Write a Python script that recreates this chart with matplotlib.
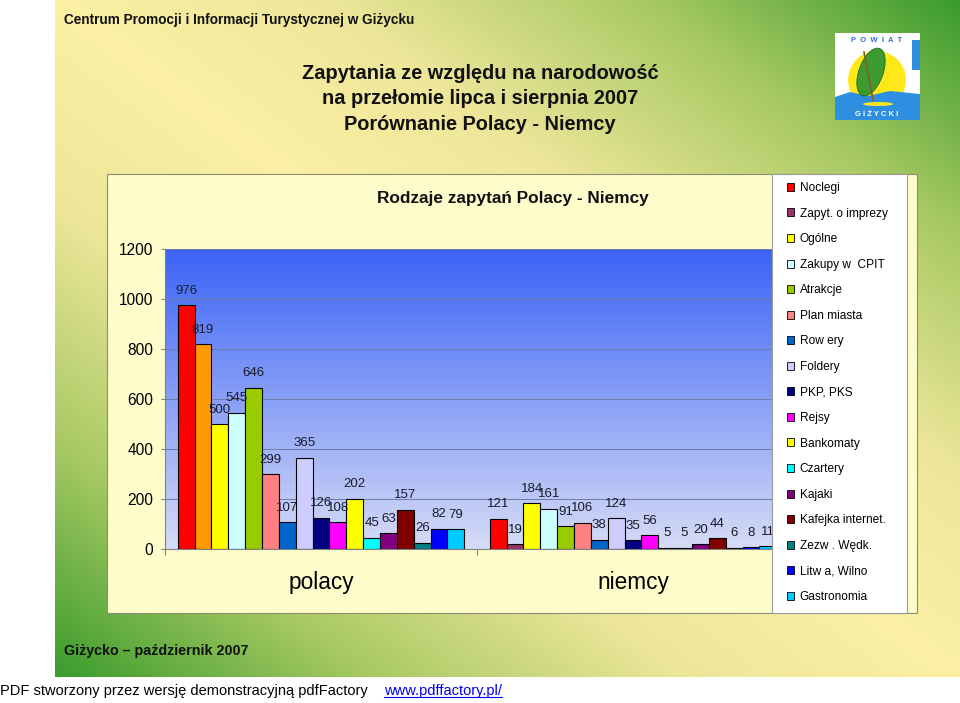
import numpy as np
import matplotlib
matplotlib.use("Agg")
from matplotlib import pyplot as plt
from matplotlib.colors import LinearSegmentedColormap
from matplotlib.patches import Rectangle, Circle, Ellipse, Polygon, Patch

plt.rcParams["font.family"] = ["Liberation Sans", "DejaVu Sans"]

GROUPS = ["polacy", "niemcy"]
CATEGORIES = ["Noclegi", "Zapyt. o imprezy", "Ogólne", "Zakupy w  CPIT", "Atrakcje",
              "Plan miasta", "Row ery", "Foldery", "PKP, PKS", "Rejsy", "Bankomaty",
              "Czartery", "Kajaki", "Kafejka internet.", "Zezw . Wędk.", "Litw a, Wilno",
              "Gastronomia"]
POLACY = [976, 819, 500, 545, 646, 299, 107, 365, 126, 108, 202, 45, 63, 157, 26, 82, 79]
NIEMCY = [121, 19, 184, 161, 91, 106, 38, 124, 35, 56, 5, 5, 20, 44, 6, 8, 11]
Y_TICKS = [0, 200, 400, 600, 800, 1000, 1200]

COLORS = ["#FF0000", "#993366", "#FFFF00", "#CCFFFF", "#99CC00", "#FF8080", "#0066CC",
          "#CCCCFF", "#000080", "#FF00FF", "#FFFF00", "#00FFFF", "#800080", "#800000",
          "#008080", "#0000FF", "#00CCFF"]
# in the "polacy" group the second bar was recoloured orange
POLACY_COLORS = list(COLORS)
POLACY_COLORS[1] = "#FF9900"

fig = plt.figure(figsize=(9.6, 7.03), dpi=100)
fig.patch.set_facecolor("white")

# page background (pixel coordinates)
bg = fig.add_axes([0, 0, 1, 1], zorder=0)
page_cmap = LinearSegmentedColormap.from_list(
    "page", [(0, "#FBF0A4"), (0.3, "#EDE699"), (0.65, "#A8C964"), (1, "#3A9B2C")])
yy, xx = np.mgrid[0:677, 55:960]
t = np.abs((xx - 55) / 905 - yy / 677)
bg.imshow(t, cmap=page_cmap, vmin=0, vmax=1, extent=(55, 960, 677, 0), aspect="auto")
bg.set_xlim(0, 960)
bg.set_ylim(703, 0)
bg.axis("off")

bg.add_patch(Rectangle((107, 174), 810, 439, facecolor="#FFFCCC", edgecolor="#8C8C70", lw=0.8))

bg.text(64, 20, "Centrum Promocji i Informacji Turystycznej w Giżycku",
        fontsize=9.8, fontweight="bold", va="center", color="#111111")
bg.text(480, 99, "Zapytania ze względu na narodowość\nna przełomie lipca i sierpnia 2007\n"
        "Porównanie Polacy - Niemcy", ha="center", va="center", fontsize=14.4,
        fontweight="bold", linespacing=1.42, color="#111111")
bg.text(513, 199, "Rodzaje zapytań Polacy - Niemcy", ha="center", va="center",
        fontsize=12.4, fontweight="bold", color="#111111")
bg.text(64, 651, "Giżycko – październik 2007", fontsize=10.3, fontweight="bold",
        va="center", color="#111111")
bg.text(0, 691, "PDF stworzony przez wersję demonstracyjną pdfFactory", fontsize=10.5,
        va="center", color="black")
url = bg.text(384, 691, "www.pdffactory.pl/", fontsize=10.5, va="center", color="#0000EE")

# logo
bg.add_patch(Rectangle((835, 33), 85, 87, facecolor="white", edgecolor="none"))
sun = Circle((877, 80), 29, facecolor="#FFE81A", edgecolor="none")
bg.add_patch(sun)
sun.set_clip_path(Rectangle((835, 33), 85, 87, transform=bg.transData))
bg.add_patch(Polygon([(835, 97), (850, 92), (868, 96), (890, 91), (920, 94), (920, 120),
                      (835, 120)], facecolor="#2E8FE0", edgecolor="none"))
bg.add_patch(Rectangle((912, 40), 8, 30, facecolor="#2E8FE0", edgecolor="none"))
bg.plot([864, 873], [52, 100], color="#8B5A2B", lw=1.2)
bg.add_patch(Ellipse((871, 72), 24, 50, angle=20, facecolor="#3C9A2E", edgecolor="#1E6B1A", lw=0.6))
bg.add_patch(Ellipse((878, 104), 30, 4, facecolor="#FFE81A", edgecolor="none"))
bg.text(877, 40, "P  O  W  I  A  T", ha="center", va="center", fontsize=5.5,
        fontweight="bold", color="#2E6FD0")
bg.text(877, 114, "G I Ż Y C K I", ha="center", va="center", fontsize=5.5,
        fontweight="bold", color="white")

# chart
ax = fig.add_axes([165 / 960, (703 - 549) / 703, (789 - 165) / 960, (549 - 249) / 703], zorder=1)
plot_cmap = LinearSegmentedColormap.from_list("plot", ["#D6DCF7", "#3B63F6"])
ax.imshow(np.linspace(0, 1, 256)[:, None], cmap=plot_cmap, extent=(0, 2, 0, 1200),
          origin="lower", aspect="auto", zorder=0)
ax.set_xlim(0, 2)
ax.set_ylim(0, 1200)

n = len(CATEGORIES)
slot = 1 / (n + 1.5)
group_x = np.arange(len(GROUPS))
for i, cat in enumerate(CATEGORIES):
    x = group_x + 0.75 * slot + (i + 0.5) * slot
    bars = ax.bar(x, [POLACY[i], NIEMCY[i]], width=slot,
                  color=[POLACY_COLORS[i], COLORS[i]], edgecolor="black", lw=0.8, zorder=2)
    ax.bar_label(bars, padding=6, fontsize=9.5, color="#1A1A2A")

ax.set_axisbelow(True)
ax.yaxis.grid(True, color="#6E7CA8", lw=0.7)
ax.set_yticks(Y_TICKS)
ax.set_xticks([0, 1, 2])
ax.set_xticklabels([])
ax.tick_params(axis="y", length=3, pad=5.5, labelsize=11.2, color="#808080")
ax.tick_params(axis="x", length=4, color="#808080")
for side in ["top", "right"]:
    ax.spines[side].set_visible(False)
for side in ["left", "bottom"]:
    ax.spines[side].set_color("#808080")
for g, name in enumerate(GROUPS):
    ax.annotate(name, (g + 0.5, -0.11), xycoords=("data", "axes fraction"),
                ha="center", va="center", fontsize=16.3, annotation_clip=False)

# legend box overlapping the plot, as in the original
ov = fig.add_axes([0, 0, 1, 1], zorder=3)
ov.set_xlim(0, 960)
ov.set_ylim(703, 0)
ov.axis("off")
ov.patch.set_alpha(0)
ov.add_patch(Rectangle((772, 174), 135, 439, facecolor="white", edgecolor="#9A9A9A", lw=0.8))
handles = [Patch(facecolor=c, edgecolor="black", lw=0.6) for c in COLORS]
ov.legend(handles, CATEGORIES, loc="upper left", bbox_to_anchor=(777, 172.5),
          bbox_transform=ov.transData, frameon=False, fontsize=8.6, handlelength=0.66,
          handleheight=0.66, handletextpad=0.45, labelspacing=1.135, borderpad=0.3)

# underline for the link
fig.canvas.draw()
bb = url.get_window_extent().transformed(bg.transData.inverted())
bg.plot([bb.x0, bb.x1], [bb.y0 - 1, bb.y0 - 1], color="#0000EE", lw=0.8)

fig.savefig("out.png", dpi=100)
